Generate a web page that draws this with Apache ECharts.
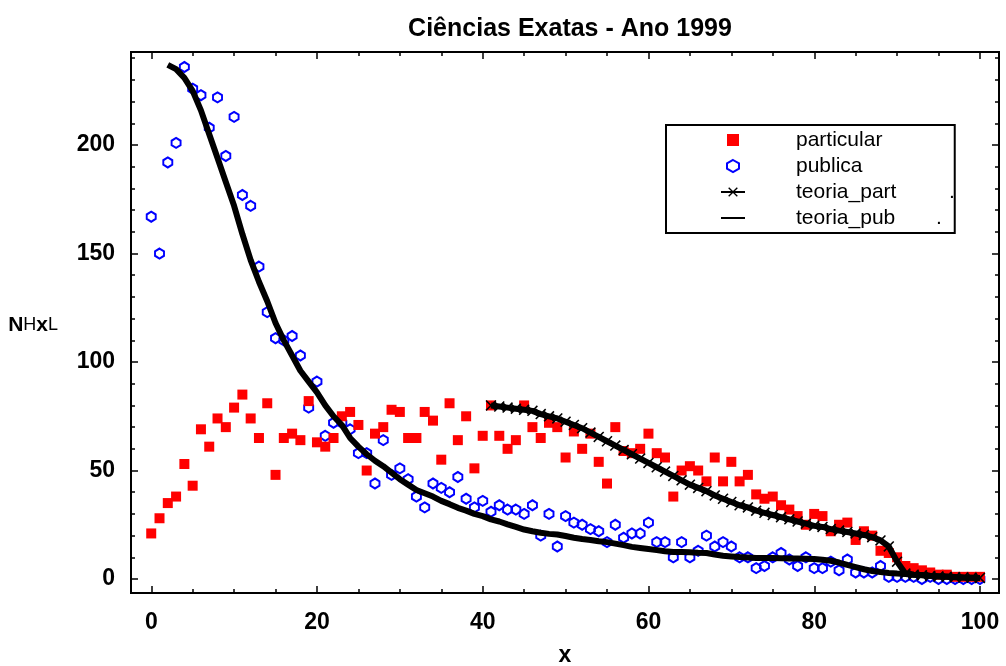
<!DOCTYPE html>
<html>
<head>
<meta charset="utf-8">
<script src="https://cdn.jsdelivr.net/npm/echarts@6/dist/echarts.min.js"></script>
<style>
  html, body { margin: 0; padding: 0; background: #fff; }
  #main { width: 1006px; height: 666px; }
</style>
</head>
<body>
<div id="main"></div>
<script>
// dados (indice = x, a partir de xStart)
var particular = [21, 28, 35, 38, 53, 43, 69, 61, 74, 70,
    79, 85, 74, 65, 81, 48, 65, 67, 64, 82,
    63, 61, 65, 75, 77, 71, 50, 67, 70, 78,
    77, 65, 65, 77, 73, 55, 81, 64, 75, 51,
    66, 80, 66, 60, 64, 80, 70, 65, 72, 70,
    56, 68, 60, 67, 54, 44, 70, 59, 58, 60,
    67, 58, 56, 38, 50, 52, 50, 45, 56, 45,
    54, 45, 48, 39, 37, 38, 34, 32, 29, 25,
    30, 29, 22, 25, 26, 18, 22, 20, 13, 12,
    10, 6, 5, 4, 3, 2, 2, 1, 1, 1, 1];
var publica = [167, 150, 192, 201, 236, 226, 223, 208, 222, 195,
    213, 177, 172, 144, 123, 111, 110, 112, 103, 79,
    91, 66, 72, 72, 69, 58, 58, 44, 64, 48,
    51, 46, 38, 33, 44, 42, 40, 47, 37, 33,
    36, 31, 34, 32, 32, 30, 34, 20, 30, 15,
    29, 26, 25, 23, 22, 17, 25, 19, 21, 21,
    26, 17, 17, 10, 17, 10, 13, 20, 15, 17,
    15, 10, 10, 5, 6, 10, 12, 9, 6, 10,
    5, 5, 8, 4, 9, 3, 3, 3, 6, 1,
    1, 1, 1, 0, 1, 0, 0, 0, 0, 0, 0];
var teoriaPubStart = 2;
var teoriaPub = [237, 235, 231, 225, 216, 205, 194, 183,
    172, 159, 147, 137, 128, 118, 110, 103, 96, 91,
    86, 80, 75, 71, 65, 61, 57.5, 54.5, 52, 49,
    46, 43.5, 41, 39.5, 38, 36, 34.5, 32.8, 31.5, 30,
    29, 27.5, 26.5, 25.2, 24, 22.8, 22, 21.3, 20.8, 20.5,
    19.8, 19, 18.4, 18, 17.4, 17, 16.3, 15.6, 14.8, 14.3,
    13.8, 13.3, 12.8, 12.5, 12.4, 12.3, 12.1, 12, 11.3, 10.7,
    10.4, 10.1, 9.9, 9.7, 9.7, 9.7, 9.6, 9.5, 9.4, 9.3,
    9.2, 8.9, 8.4, 7.6, 6.5, 5.5, 4.5, 3.7, 3.2, 2.8,
    2.5, 2.3, 2, 1.8, 1.5, 1.3, 1.1, 0.9, 0.7, 0.6, 0.5];
var teoriaPartStart = 41;
var teoriaPart = [80, 79.5, 79, 78.5, 78, 77.5, 76, 75, 74,
    72.5, 71, 69.5, 67.5, 65.5, 63.5, 61.5, 59.5, 57.5, 55.5,
    53.5, 51.5, 49.5, 47.5, 45.5, 43.5, 42, 40.5, 38.5, 37,
    35.5, 34, 33, 31.5, 30.5, 29.5, 28.5, 27.5, 26.5, 25.5,
    24.5, 24, 23, 22.3, 21.7, 21, 20.3, 19.3, 17.8, 15,
    8, 2.5, 2, 1.7, 1.4, 1.2, 1, 0.8, 0.7, 0.6, 0.5];

var xTicks = { min: 0, max: 100, step: 20 };
var yTicks = { min: 0, max: 200, step: 50, minorMax: 240, minorStep: 10 };

function pares(vals, start) {
    return vals.map(function (v, i) { return [start + i, v]; });
}

var hexagono = 'path://M5,0L10,2.8L10,7.2L5,10L0,7.2L0,2.8Z';
var quadrado = 'path://M0,0L10,0L10,10L0,10Z';
var cruz = 'path://M0,1L1,0L5,4L9,0L10,1L6,5L10,9L9,10L5,6L1,10L0,9L4,5Z';
var traco = 'path://M0,0L24,0L24,2L0,2Z';

var fonte = 'Liberation Sans, Arial, sans-serif';

var myChart = echarts.init(document.getElementById('main'));

var option = {
    animation: false,
    title: {
        text: 'Ciências Exatas - Ano 1999',
        left: 565,
        top: 12,
        textAlign: 'center',
        textStyle: { fontFamily: fonte, fontSize: 25, fontWeight: 'bold', color: '#000' }
    },
    legend: {
        orient: 'vertical',
        left: 666,
        top: 125,
        padding: [4, 0, 4, 54],
        itemWidth: 24,
        itemHeight: 12,
        itemGap: 4,
        borderColor: '#000',
        borderWidth: 2,
        lineStyle: { width: 2 },
        textStyle: { fontFamily: fonte, fontSize: 21, lineHeight: 22, color: '#000', padding: [0, 0, 0, 46] },
        data: ['particular', 'publica', 'teoria_part', { name: 'teoria_pub', icon: traco }],
        formatter: function (name) {
            if (name === 'teoria_part') return name + '         .';
            if (name === 'teoria_pub') return name + '       .';
            return name;
        }
    },
    grid: [
        // area de dados + moldura
        { left: 131, right: 7, top: 52, bottom: 73, show: true, borderColor: '#000', borderWidth: 2, outerBoundsMode: 'none' },
        // marcas do eixo x
        { left: 151.3, right: 26, top: 52, bottom: 73, outerBoundsMode: 'none' },
        // marcas menores do eixo y
        { left: 131, right: 7, top: 58.2, bottom: 87, outerBoundsMode: 'none' },
        // marcas maiores do eixo y
        { left: 131, right: 7, top: 145, bottom: 87, outerBoundsMode: 'none' }
    ],
    xAxis: [
        {
            gridIndex: 0, type: 'value', min: -2.44, max: 102.3,
            axisLine: { show: false }, axisTick: { show: false }, axisLabel: { show: false }, splitLine: { show: false },
            name: 'x', nameLocation: 'middle', nameGap: 51,
            nameTextStyle: { fontFamily: fonte, fontSize: 23, fontWeight: 'bold', color: '#000' }
        },
        {
            gridIndex: 1, type: 'value', position: 'bottom',
            min: xTicks.min, max: xTicks.max, interval: xTicks.step,
            axisLine: { show: false },
            axisTick: { inside: true, length: 7, lineStyle: { color: '#000', width: 1.5 } },
            minorTick: { show: true, splitNumber: 4, length: 4, lineStyle: { color: '#000', width: 1.5 } },
            axisLabel: { margin: 18, fontFamily: fonte, fontSize: 23, fontWeight: 'bold', color: '#000' },
            splitLine: { show: false }
        },
        {
            gridIndex: 1, type: 'value', position: 'top',
            min: xTicks.min, max: xTicks.max, interval: xTicks.step,
            axisLine: { show: false },
            axisTick: { inside: true, length: 7, lineStyle: { color: '#000', width: 1.5 } },
            minorTick: { show: true, splitNumber: 4, length: 4, lineStyle: { color: '#000', width: 1.5 } },
            axisLabel: { show: false },
            splitLine: { show: false }
        },
        { gridIndex: 2, type: 'value', show: false },
        { gridIndex: 3, type: 'value', show: false }
    ],
    yAxis: [
        {
            gridIndex: 0, type: 'value', min: -6.45, max: 242.9,
            axisLine: { show: false }, axisTick: { show: false }, axisLabel: { show: false }, splitLine: { show: false },
            name: '{b|N}{t|H}{b|x}{t|L}', nameLocation: 'middle', nameRotate: 0, nameGap: 73,
            nameTextStyle: {
                padding: [6, 0, 0, 0],
                rich: {
                    b: { fontFamily: fonte, fontSize: 21, fontWeight: 'bold', color: '#000' },
                    t: { fontFamily: fonte, fontSize: 18, color: '#000' }
                }
            }
        },
        { gridIndex: 1, type: 'value', show: false },
        {
            gridIndex: 2, type: 'value', position: 'left',
            min: yTicks.min, max: yTicks.minorMax, interval: yTicks.minorStep,
            axisLine: { show: false },
            axisTick: { inside: true, length: 4, lineStyle: { color: '#000', width: 1.5 } },
            axisLabel: { show: false }, splitLine: { show: false }
        },
        {
            gridIndex: 2, type: 'value', position: 'right',
            min: yTicks.min, max: yTicks.minorMax, interval: yTicks.minorStep,
            axisLine: { show: false },
            axisTick: { inside: true, length: 4, lineStyle: { color: '#000', width: 1.5 } },
            axisLabel: { show: false }, splitLine: { show: false }
        },
        {
            gridIndex: 3, type: 'value', position: 'left',
            min: yTicks.min, max: yTicks.max, interval: yTicks.step,
            axisLine: { show: false },
            axisTick: { inside: true, length: 7, lineStyle: { color: '#000', width: 1.5 } },
            axisLabel: { margin: 16, padding: [5, 0, 0, 0], fontFamily: fonte, fontSize: 23, fontWeight: 'bold', color: '#000' },
            splitLine: { show: false }
        },
        {
            gridIndex: 3, type: 'value', position: 'right',
            min: yTicks.min, max: yTicks.max, interval: yTicks.step,
            axisLine: { show: false },
            axisTick: { inside: true, length: 7, lineStyle: { color: '#000', width: 1.5 } },
            axisLabel: { show: false }, splitLine: { show: false }
        }
    ],
    series: [
        {
            name: 'publica', type: 'scatter', xAxisIndex: 0, yAxisIndex: 0,
            symbol: hexagono, symbolSize: [9, 10],
            itemStyle: { color: 'rgba(255,255,255,0)', borderColor: '#0000ff', borderWidth: 2, opacity: 1 },
            data: pares(publica, 0), z: 2
        },
        {
            name: 'particular', type: 'scatter', xAxisIndex: 0, yAxisIndex: 0,
            symbol: quadrado, symbolSize: 10,
            itemStyle: { color: '#ff0000', opacity: 1 },
            data: pares(particular, 0), z: 3
        },
        {
            name: 'teoria_pub', type: 'line', xAxisIndex: 0, yAxisIndex: 0,
            symbol: 'none', showSymbol: false,
            lineStyle: { color: '#000', width: 6 },
            itemStyle: { color: '#000' },
            data: pares(teoriaPub, teoriaPubStart), z: 4
        },
        {
            name: 'teoria_part', type: 'line', xAxisIndex: 0, yAxisIndex: 0,
            symbol: cruz, symbolSize: 11, showSymbol: true,
            lineStyle: { color: '#000', width: 6 },
            itemStyle: { color: '#000' },
            data: pares(teoriaPart, teoriaPartStart), z: 5
        }
    ]
};

myChart.setOption(option);
</script>
</body>
</html>
